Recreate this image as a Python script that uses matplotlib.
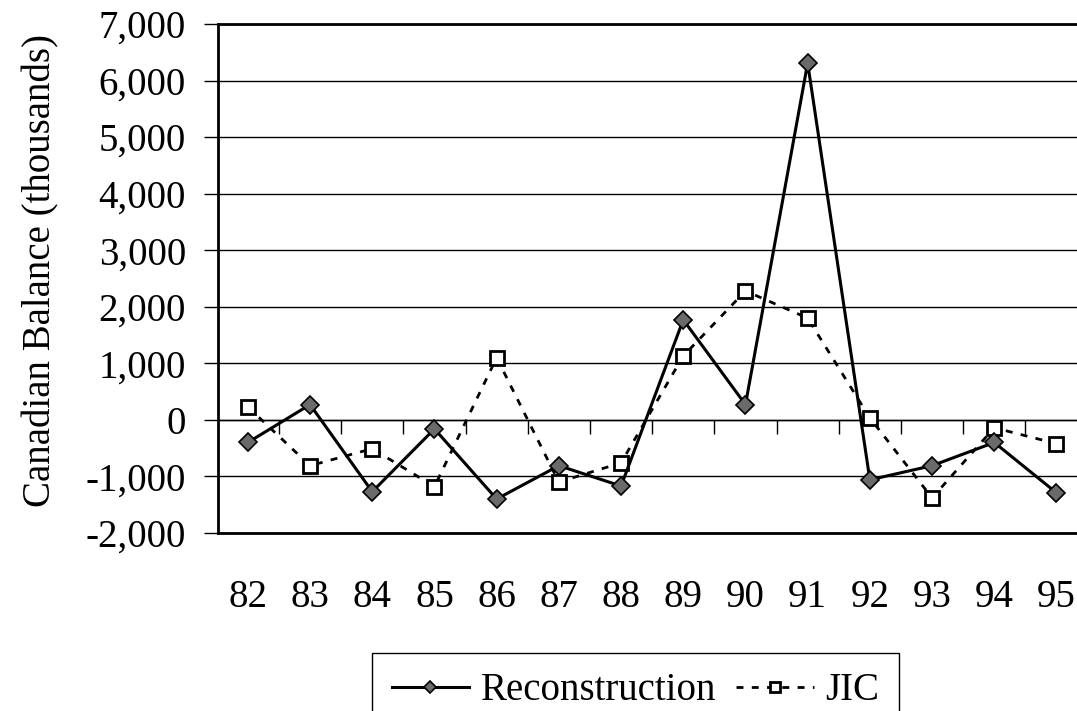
import matplotlib
matplotlib.use('Agg')
import matplotlib.pyplot as plt
from matplotlib.ticker import FuncFormatter, FixedLocator, NullFormatter

plt.rcParams['font.family'] = ['Liberation Serif', 'DejaVu Serif']

years = [82, 83, 84, 85, 86, 87, 88, 89, 90, 91, 92, 93, 94, 95]
year_labels = ['82', '83', '84', '85', '86', '87', '88', '89', '90', '91', '92', '93', '94', '95']
reconstruction = [-400, 270, -1270, -160, -1400, -810, -1170, 1770, 270, 6310, -1060, -810, -400, -1290]
jic = [230, -810, -510, -1180, 1100, -1100, -760, 1130, 2280, 1800, 35, -1380, -140, -420]

fig = plt.figure(figsize=(10.77, 7.11), dpi=100)
ax = fig.add_axes([0.2024, 0.2504, 0.7976, 0.7158])

ax.plot(years, reconstruction, color='black', lw=2.2, marker='D', ms=9,
        mfc='#6a6a6a', mec='black', mew=1.2, label='Reconstruction', zorder=4)
ax.plot(years, jic, color='black', lw=2.0, dashes=(2.5, 3), marker='s', ms=10,
        mfc='white', mec='black', mew=2.0, label='JIC', zorder=3)

ax.set_ylim(-2000, 7000)
ax.set_xlim(81.52, 95.33)
ax.set_yticks(range(-2000, 7001, 1000))
ax.yaxis.set_major_formatter(FuncFormatter(lambda v, p: '{:,.0f}'.format(v)))
ax.grid(axis='y', color='black', lw=1.0)
ax.set_axisbelow(True)

ax.set_xticks(years)
ax.set_xticklabels(year_labels)
ax.tick_params(axis='x', length=0, pad=33, labelsize=28)
ax.tick_params(axis='y', direction='out', length=10, width=1, pad=13, labelsize=28)

for s in ['left', 'bottom', 'top']:
    ax.spines[s].set_linewidth(2)
ax.spines['right'].set_visible(False)

# category axis line at zero with tick marks between categories
sec = ax.secondary_xaxis(2 / 9)
sec.xaxis.set_major_locator(FixedLocator([y + 0.5 for y in years[:-1]]))
sec.xaxis.set_major_formatter(NullFormatter())
sec.xaxis.set_ticks_position('bottom')
sec.tick_params(direction='out', length=10, width=1)
sec.spines['bottom'].set_linewidth(1.0)

ax.set_ylabel('Canadian Balance (thousands)', fontsize=28)
ax.yaxis.set_label_coords(-0.185, 0.515)

fig.legend(loc='upper center', bbox_to_anchor=(0.59, 0.0816), ncol=2,
           fontsize=28, frameon=True, fancybox=False, edgecolor='black',
           framealpha=1, handlelength=2.0, columnspacing=0.5, handletextpad=0.3,
           borderpad=0.5, borderaxespad=0, markerscale=0.7)

plt.savefig('out.png', dpi=100)
plt.close()
